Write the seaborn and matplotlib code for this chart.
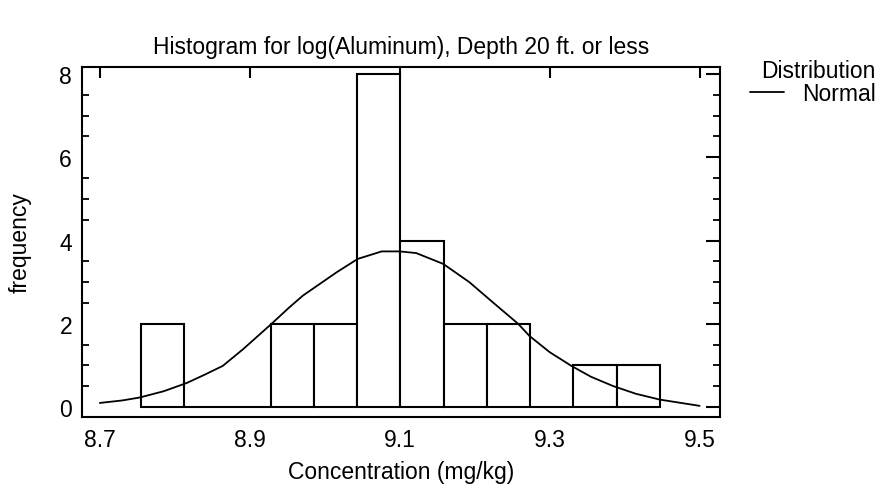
import numpy as np
import pandas as pd
import matplotlib
matplotlib.use("Agg")
import matplotlib.pyplot as plt
import seaborn as sns
from matplotlib.ticker import MultipleLocator

# histogram bins (log concentration) and counts
bin_edges = [8.7547, 8.8124, 8.8701, 8.9278, 8.9855, 9.0432, 9.1009,
             9.1586, 9.2163, 9.2740, 9.3317, 9.3894, 9.4471]
counts = [2, 0, 0, 2, 2, 8, 4, 2, 2, 0, 1, 1]

# fitted normal curve
curve_x = [8.700, 8.730, 8.753, 8.785, 8.816, 8.840, 8.864, 8.891, 8.929,
           8.953, 8.971, 9.016, 9.044, 9.076, 9.100, 9.122, 9.158, 9.193,
           9.224, 9.258, 9.273, 9.300, 9.329, 9.355, 9.384, 9.415, 9.447,
           9.500]
curve_y = [0.10, 0.16, 0.23, 0.38, 0.58, 0.78, 0.99, 1.39, 2.00,
           2.40, 2.68, 3.24, 3.56, 3.74, 3.74, 3.70, 3.44, 3.00,
           2.52, 2.00, 1.71, 1.32, 0.99, 0.73, 0.51, 0.32, 0.18,
           0.03]

x_ticks = [8.7, 8.9, 9.1, 9.3, 9.5]
x_ticklabels = ["8.7", "8.9", "9.1", "9.3", "9.5"]

sns.set_style("white")
plt.rcParams["font.family"] = ["Liberation Sans", "DejaVu Sans"]
plt.rcParams["text.color"] = "black"
plt.rcParams["axes.labelcolor"] = "black"
plt.rcParams["xtick.color"] = "black"
plt.rcParams["ytick.color"] = "black"
FS = 16.5

centers = [(a + b) / 2 for a, b in zip(bin_edges[:-1], bin_edges[1:])]
df = pd.DataFrame({"x": centers, "n": counts})
dfc = pd.DataFrame({"x": curve_x, "y": curve_y})

fig = plt.figure(figsize=(8.8, 4.89), dpi=100)
ax = fig.add_axes([0.093, 0.145, 0.725, 0.716])

sns.histplot(data=df, x="x", weights="n", bins=bin_edges, ax=ax,
             color="white", edgecolor="black", linewidth=1.5, alpha=1)
sns.lineplot(data=dfc, x="x", y="y", ax=ax, color="black", linewidth=1.3,
             label="Normal")

ax.set_xlim(8.676, 9.527)
ax.set_ylim(-0.24, 8.17)
ax.set_xticks(x_ticks)
ax.set_xticklabels(x_ticklabels)
ax.yaxis.set_major_locator(MultipleLocator(2))
ax.yaxis.set_minor_locator(MultipleLocator(0.5))
ax.tick_params(axis="x", which="major", direction="in", length=8, width=1.5,
               top=True, labelsize=FS, pad=8)
ax.tick_params(axis="y", which="major", direction="in", length=10, width=1.5,
               right=True, labelsize=FS, pad=7)
ax.tick_params(axis="y", which="minor", direction="in", length=5, width=1.3,
               left=True, right=True)
for s in ax.spines.values():
    s.set_linewidth(1.5)
    s.set_color("black")

ax.set_xlabel("Concentration (mg/kg)", fontsize=FS, labelpad=6)
ax.set_ylabel("frequency", fontsize=FS, labelpad=20)
ax.set_title("Histogram for log(Aluminum), Depth 20 ft. or less",
             fontsize=FS, pad=10)

leg = ax.legend(title="Distribution", loc="upper right",
                bbox_to_anchor=(0.995, 0.877), bbox_transform=fig.transFigure,
                frameon=False, fontsize=FS, title_fontsize=FS,
                handlelength=1.45, handletextpad=0.8, borderpad=0,
                borderaxespad=0, labelspacing=0.2)
leg._legend_box.align = "right"
leg._legend_box.sep = 0

fig.savefig("out.png", dpi=100)
